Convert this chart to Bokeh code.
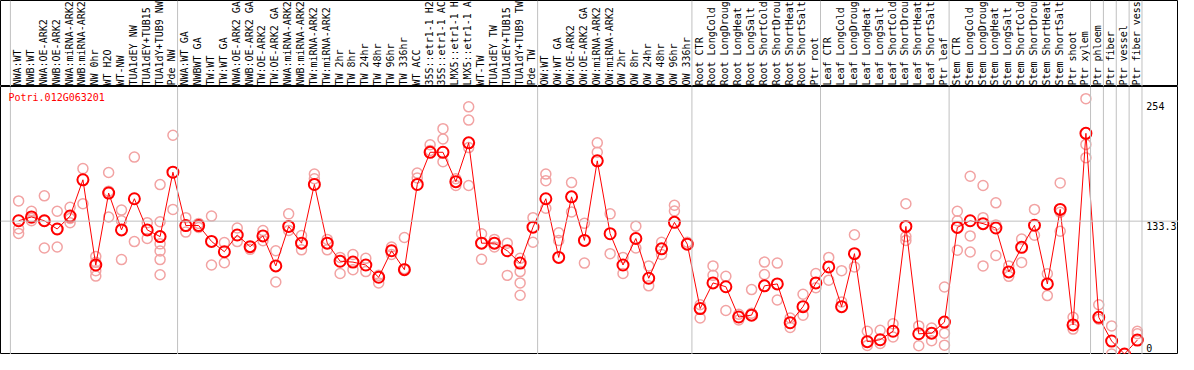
import numpy as np
from bokeh.plotting import figure
from bokeh.layouts import column
from bokeh.models import Range1d, Span, Label
from bokeh.core.properties import value
from bokeh.embed import file_html
from bokeh.resources import INLINE

# ---------------- data ----------------
gene_id = "Potri.012G063201"

categories = [
    "NWA:WT", "NWB:WT", "NWA:OE-ARK2", "NWB:OE-ARK2", "NWA:miRNA-ARK2", "NWB:miRNA-ARK2",
    "NW 0hr", "WT H2O", "WT-NW", "TUA1dEY NW", "TUA1dEY+TUB15 NW", "TUA1dY+TUB9 NW", "Pde NW",
    "NWA:WT GA", "NWBWT GA", "TW:WT", "TW:WT GA", "NWA:OE-ARK2 GA", "NWB:OE-ARK2 GA",
    "TW:OE-ARK2", "TW:OE-ARK2 GA", "NWA:miRNA-ARK2 GA", "NWB:miRNA-ARK2 GA", "TW:miRNA-ARK2",
    "TW:miRNA-ARK2 GA", "TW 2hr", "TW 8hr", "TW 24hr", "TW 48hr", "TW 96hr", "TW 336hr",
    "WT ACC", "35S::etr1-1 H2O", "35S::etr1-1 ACC", "LMX5::etr1-1 H2O", "LMX5::etr1-1 ACC",
    "WT-TW", "TUA1dEY TW", "TUA1dEY+TUB15 TW", "TUA1dY+TUB9 TW", "Pde TW",
    "OW:WT", "OW:WT GA", "OW:OE-ARK2", "OW:OE-ARK2 GA", "OW:miRNA-ARK2", "OW:miRNA-ARK2 GA",
    "OW 2hr", "OW 8hr", "OW 24hr", "OW 48hr", "OW 96hr", "OW 336hr",
    "Root CTR", "Root LongCold", "Root LongDrought", "Root LongHeat", "Root LongSalt",
    "Root ShortCold", "Root ShortDrought", "Root ShortHeat", "Root ShortSalt", "Ptr root",
    "Leaf CTR", "Leaf LongCold", "Leaf LongDrought", "Leaf LongHeat", "Leaf LongSalt",
    "Leaf ShortCold", "Leaf ShortDrought", "Leaf ShortHeat", "Leaf ShortSalt", "Ptr leaf",
    "Stem CTR", "Stem LongCold", "Stem LongDrought", "Stem LongHeat", "Stem LongSalt",
    "Stem ShortCold", "Stem ShortDrought", "Stem ShortHeat", "Stem ShortSalt", "Ptr shoot",
    "Ptr xylem", "Ptr phloem", "Ptr fiber", "Ptr vessel", "Ptr fiber vessel",
]

group_sizes = [13, 28, 12, 10, 10, 11, 1, 1, 1, 1]

means = [
    133.7, 137.5, 133.7, 125.4, 138.4, 174.8, 89.3, 161.5, 124.5, 155.8, 124.5, 117.8, 182.4,
    128.9, 128.9, 113.0, 102.6, 119.4, 107.7, 118.5, 88.4, 128.0, 111.2, 170.1, 111.2,
    93.1, 92.2, 89.3, 77.0, 103.6, 84.6, 170.1, 202.4, 202.4, 172.9, 211.9,
    111.2, 111.2, 103.6, 91.2, 127.3,
    155.8, 96.9, 157.7, 114.0, 193.8, 120.7, 89.3, 115.9, 76.0, 105.5, 132.1, 110.2,
    45.6, 71.3, 67.5, 37.1, 39.0, 68.4, 70.3, 31.4, 47.5, 71.3,
    87.4, 47.5, 100.7, 12.4, 14.3, 22.8, 128.0, 20.3, 20.9, 32.0,
    127.0, 133.7, 130.8, 126.4, 82.4, 107.0, 129.2, 70.3, 145.1, 29.2, 221.4,
    36.8, 13.0, 0.0, 14.0,
]

replicates = [
    [153.6, 125.7, 121.0], [143.2, 133.7, 136.0], [158.7, 133.7, 106.4], [143.2, 107.4, 125.4],
    [147.3, 131.8, 136.0], [186.0, 150.8], [97.9, 92.0, 83.6, 78.2], [182.1, 163.4, 137.5],
    [144.4, 133.7, 94.7], [197.6, 112.8], [131.8, 115.9], [170.0, 132.7, 110.5, 103.3, 94.7, 79.5],
    [219.5, 145.1],
    [136.8, 122.3], [131.0, 127.0], [138.4, 89.3], [111.8, 91.5], [126.4, 112.8], [107.7, 105.0],
    [123.8, 113.7], [103.6, 72.2], [140.6, 124.0], [118.8, 104.5], [175.8, 180.5], [104.5, 115.0],
    [96.9, 80.8], [99.8, 84.6], [96.0, 82.7], [78.9, 71.3], [107.4, 99.8], [116.9, 85.5],
    [181.5, 176.7], [210.0, 204.3], [226.1, 215.7, 192.9], [175.8, 169.1],
    [248.0, 234.7, 207.1, 169.1], [120.7, 95.0], [107.4, 115.0], [111.2, 78.9],
    [96.0, 82.7, 71.3, 58.9], [136.8, 112.1],
    [180.5, 173.9, 146.3], [121.6, 114.0], [172.0, 142.5], [131.1, 91.2], [211.9, 202.4],
    [140.6, 100.7], [96.9, 80.8], [128.3, 106.4], [88.4, 68.4], [112.1, 99.8], [149.2, 143.5],
    [112.1],
    [49.4, 36.1], [88.4, 78.9], [77.9, 43.7], [39.9, 34.2], [64.6, 40.9], [92.2, 79.8],
    [91.2, 54.2], [36.1, 26.6], [59.9, 39.0], [80.8, 66.5],
    [96.9, 74.1], [83.6, 52.3], [119.7, 87.4], [22.8, 8.6], [23.8, 10.5], [30.4, 17.1],
    [150.8, 117.8, 114.0], [28.2, 8.3], [26.0, 13.3], [67.2, 20.9, 8.9],
    [143.2, 133.7, 104.2], [178.3, 118.5, 102.3], [169.1, 136.8, 88.4], [151.7, 129.5, 98.8],
    [88.4, 77.9], [115.3, 91.9], [145.1, 119.1], [80.5, 58.6], [171.7, 142.2, 123.2],
    [36.8, 25.0], [256.2, 210.3, 197.0],
    [49.4, 34.9], [28.2, 0.0], [0.0], [22.8, 20.3],
]

tick_values = [254, 133.3, 0]
tick_labels = ["254", "133.3", "0"]

# ---------------- styling ----------------
W = 1178
H_TOP = 86
H_BOT = 268
FONT = "DejaVu Sans Mono"
GRID = "#C0C0C0"
RED = "#FF0000"
PINK = "#F2A3A3"
MAX_CHARS = 14   # label header shows at most this many characters (as in the original)

n = len(categories)
xs = list(range(n))
x_range = Range1d(-1.41, 90.2)
shown_labels = [c[:MAX_CHARS].rstrip() for c in categories]

bounds = list(np.cumsum([0] + group_sizes))

# top panel: rotated category labels
top = figure(width=W, height=H_TOP, x_range=x_range, y_range=Range1d(0, H_TOP),
             output_backend="svg", toolbar_location=None,
             x_axis_location=None, y_axis_location=None, min_border=0,
             outline_line_color="black", background_fill_color="white",
             border_fill_color="white")
top.grid.visible = False
for b in bounds:
    top.add_layout(Span(location=b - 0.64, dimension="height", line_color=GRID, line_width=1))
top.text(x=[x - 0.08 for x in xs], y=[1] * n, text=shown_labels, angle=np.pi / 2,
         text_align="left", text_baseline="middle", text_font=value(FONT),
         text_font_size="10px", text_color="black")

# bottom panel: expression values
bot = figure(width=W, height=H_BOT, x_range=x_range, y_range=Range1d(-0.5, 268.4),
             output_backend="svg", toolbar_location=None,
             x_axis_location=None, y_axis_location=None, min_border=0,
             outline_line_color="black", background_fill_color="white",
             border_fill_color="white")
bot.grid.visible = False
for b in bounds:
    bot.add_layout(Span(location=b - 0.64, dimension="height", line_color=GRID, line_width=1))
bot.add_layout(Span(location=tick_values[1], dimension="width", line_color=GRID, line_width=1))

rep_x = [i for i, reps in enumerate(replicates) for _ in reps]
rep_y = [v for reps in replicates for v in reps]
bot.scatter(rep_x, rep_y, marker="circle", size=10, fill_color=None,
            line_color=PINK, line_width=1.5)
bot.line(xs, means, line_color=RED, line_width=1)
bot.scatter(xs, means, marker="circle", size=11, fill_color=None,
            line_color=RED, line_width=2)

bot.text(x=[n - 0.3] * 2, y=tick_values[:2], text=tick_labels[:2], text_align="left",
         text_baseline="top", text_font=value(FONT), text_font_size="10px",
         text_color="black", y_offset=1)
bot.text(x=[n - 0.3], y=tick_values[2:], text=tick_labels[2:], text_align="left",
         text_baseline="bottom", text_font=value(FONT), text_font_size="10px",
         text_color="black", y_offset=-2)

bot.add_layout(Label(x=8, y=H_BOT - 11, x_units="screen", y_units="screen",
                     text=gene_id, text_color=RED, text_font=FONT,
                     text_font_size="10px", text_baseline="middle"))

layout = column(top, bot, spacing=0)
open("out.html", "w").write(file_html(layout, INLINE))
